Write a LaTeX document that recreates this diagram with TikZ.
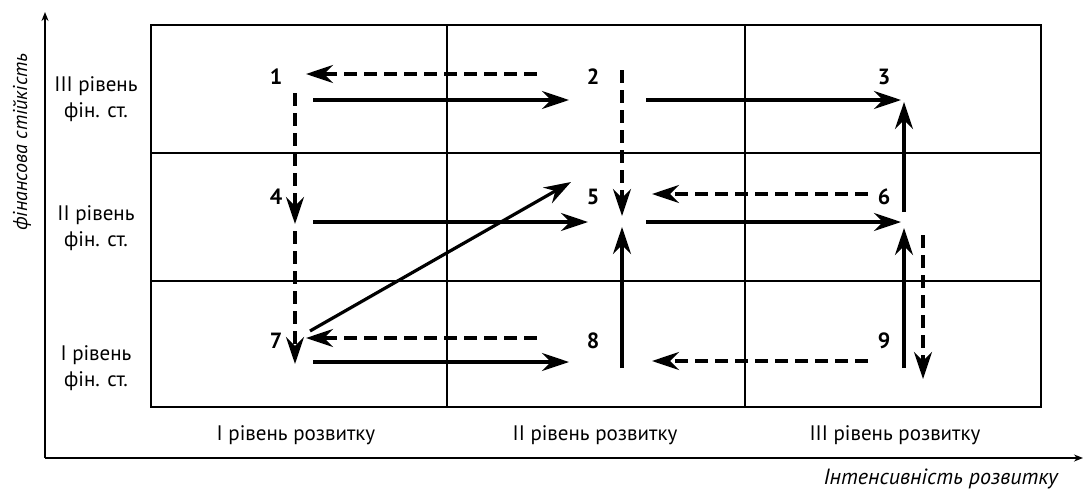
\documentclass[tikz,border=0pt]{standalone}
\usepackage{fontspec}
\setmainfont{PT Sans}
\usetikzlibrary{arrows.meta}
\tikzset{
  grid/.style={line width=2pt},
  axis/.style={line width=1.5pt,-{Stealth[length=9pt,width=7pt]}},
  solidarr/.style={line width=3.2pt,-{Stealth[length=27pt,width=18pt,inset=9pt]}},
  dasharr/.style={line width=3.2pt,dash pattern=on 13pt off 7pt,-{Stealth[length=27pt,width=18pt,inset=9pt]}},
  lbl/.style={font=\fontsize{21}{26}\selectfont,align=center,inner sep=0pt},
  num/.style={font=\fontsize{22}{24}\selectfont\bfseries,inner sep=0pt},
  axlbl/.style={font=\fontsize{22}{26}\selectfont\itshape,inner sep=0pt}
}
\begin{document}
\begin{tikzpicture}[x=1pt,y=-1pt]
\useasboundingbox (0,0) rectangle (1084,493);
% grid
\draw[grid] (151,25) rectangle (1041,407);
\draw[grid] (447,25) -- (447,407);
\draw[grid] (745,25) -- (745,407);
\draw[grid] (151,153) -- (1041,153);
\draw[grid] (151,281) -- (1041,281);
% axes
\coordinate (O) at (45,458);
\coordinate (Ytop) at (45,12);
\coordinate (Xend) at (1083,458);
\draw[axis] (O) -- (Ytop);
\draw[axis] (O) -- (Xend);
\node[axlbl,font=\fontsize{20}{24}\selectfont\itshape,rotate=90] (ylab) at (22,142) {фінансова стійкість};
\node[axlbl,anchor=east] (xlab) at (1058,479) {Інтенсивність розвитку};
% row labels
\node[lbl] (r3) at (96,99) {III рівень\\фін. ст.};
\node[lbl] (r2) at (96,228) {II рівень\\фін. ст.};
\node[lbl] (r1) at (96,368) {I рівень\\фін. ст.};
% column labels
\node[lbl] (c1) at (296,435) {I рівень розвитку};
\node[lbl] (c2) at (595,435) {II рівень розвитку};
\node[lbl] (c3) at (895,435) {III рівень розвитку};
% numbers
\node[num] (n1) at (276,77) {1};
\node[num] (n2) at (593,77) {2};
\node[num] (n3) at (884,77) {3};
\node[num] (n4) at (276,197) {4};
\node[num] (n5) at (593,197) {5};
\node[num] (n6) at (884,197) {6};
\node[num] (n7) at (276,341) {7};
\node[num] (n8) at (593,341) {8};
\node[num] (n9) at (884,341) {9};
% connector end points
\coordinate (a1s) at (537,74);  \coordinate (a1e) at (306,74);
\coordinate (a2s) at (313,100); \coordinate (a2e) at (569,100);
\coordinate (a3s) at (295,93);  \coordinate (a3e) at (295,224);
\coordinate (a4s) at (295,231); \coordinate (a4e) at (295,364);
\coordinate (a5s) at (313,222); \coordinate (a5e) at (588,222);
\coordinate (a6s) at (310,331); \coordinate (a6e) at (571,182);
\coordinate (a7s) at (537,338); \coordinate (a7e) at (306,338);
\coordinate (a8s) at (313,362); \coordinate (a8e) at (569,362);
\coordinate (b1s) at (622,70);  \coordinate (b1e) at (622,216);
\coordinate (b2s) at (622,368); \coordinate (b2e) at (622,227);
\coordinate (b3s) at (646,100); \coordinate (b3e) at (901,100);
\coordinate (b4s) at (868,194); \coordinate (b4e) at (652,194);
\coordinate (b5s) at (646,222); \coordinate (b5e) at (901,222);
\coordinate (b6s) at (904,212); \coordinate (b6e) at (904,102);
\coordinate (b7s) at (904,368); \coordinate (b7e) at (904,228);
\coordinate (b8s) at (923,235); \coordinate (b8e) at (923,379);
\coordinate (b9s) at (868,361); \coordinate (b9e) at (652,361);
% connectors
\draw[dasharr]  (a1s) -- (a1e);
\draw[solidarr] (a2s) -- (a2e);
\draw[dasharr]  (a3s) -- (a3e);
\draw[dasharr]  (a4s) -- (a4e);
\draw[solidarr] (a5s) -- (a5e);
\draw[solidarr] (a6s) -- (a6e);
\draw[dasharr]  (a7s) -- (a7e);
\draw[solidarr] (a8s) -- (a8e);
\draw[dasharr]  (b1s) -- (b1e);
\draw[solidarr] (b2s) -- (b2e);
\draw[solidarr] (b3s) -- (b3e);
\draw[dasharr]  (b4s) -- (b4e);
\draw[solidarr] (b5s) -- (b5e);
\draw[solidarr] (b6s) -- (b6e);
\draw[solidarr] (b7s) -- (b7e);
\draw[dasharr]  (b8s) -- (b8e);
\draw[dasharr]  (b9s) -- (b9e);
\end{tikzpicture}
\end{document}
